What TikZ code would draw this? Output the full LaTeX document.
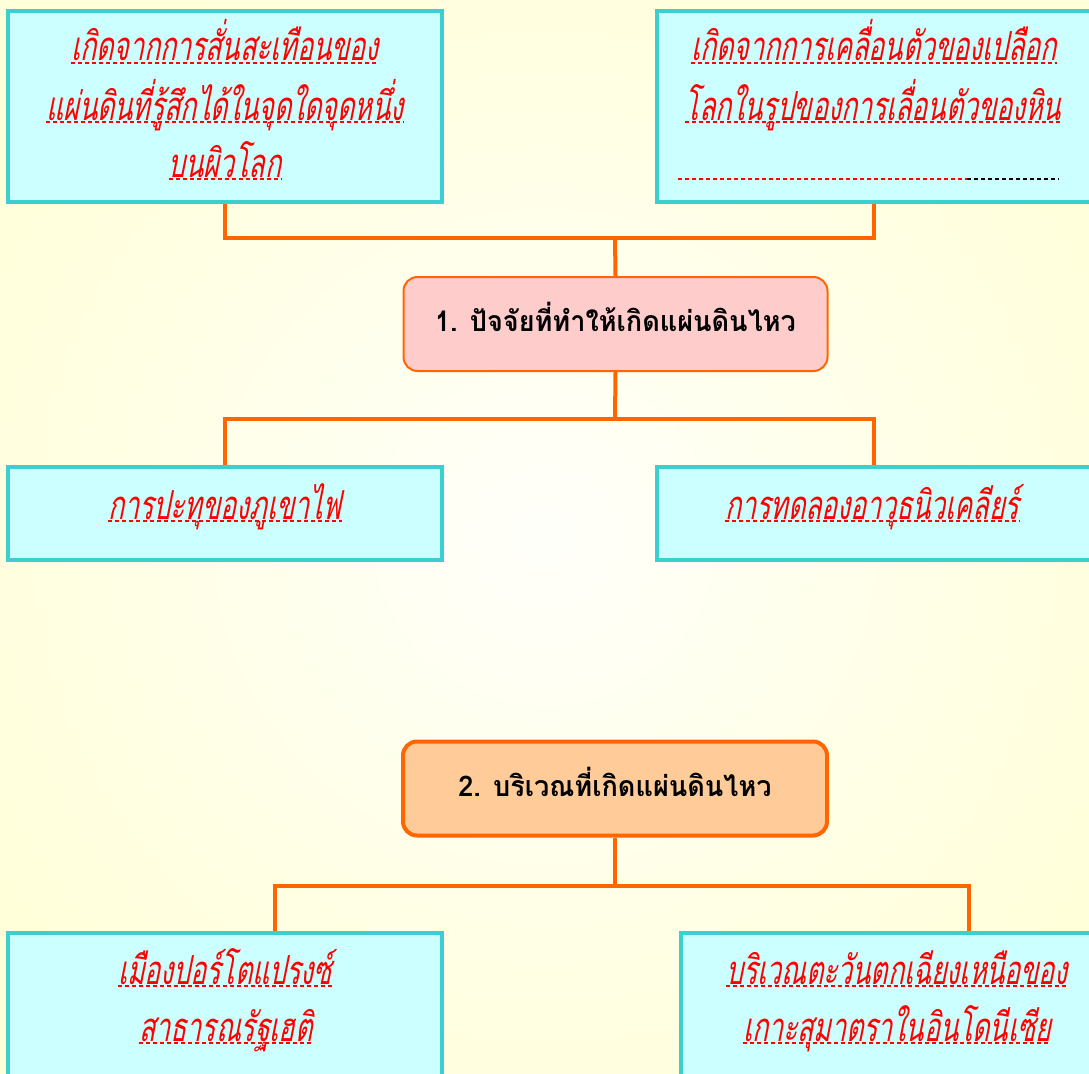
\documentclass[tikz,border=0pt]{standalone}
\usepackage{fontspec}
\newfontfamily\thaiit[Script=Thai,FakeSlant=0.2,FakeStretch=0.665]{Loma}
\newfontfamily\thaibf[Script=Thai,FakeStretch=0.95]{Loma}
\definecolor{tealb}{HTML}{3CCFCF}
\definecolor{cyanf}{HTML}{CCFFFF}
\definecolor{orng}{HTML}{FF6600}
\definecolor{pinkf}{HTML}{FFCCCC}
\definecolor{peachf}{HTML}{FFCC99}
\definecolor{bgout}{HTML}{FFFFDA}
\definecolor{bgin}{HTML}{FFFFFA}
\definecolor{ulred}{HTML}{FF0000}
\begin{document}
\begin{tikzpicture}[x=1pt,y=-1pt,
  box/.style={draw=tealb,fill=cyanf,line width=4pt,minimum width=434pt,inner sep=0pt},
  conn/.style={draw=orng,line width=4pt},
  title/.style={draw=orng,rounded corners=14pt,minimum width=424pt,minimum height=94pt,
     inner sep=0pt,text depth=0pt,font=\thaibf\bfseries\fontsize{28.5}{28.5}\selectfont},
  uline/.style={color=ulred,line width=1.2pt,dash pattern=on 4pt off 3pt},
  ln/.style={anchor=base,inner xsep=0pt,inner ysep=0pt,text=ulred,
     font=\thaiit\fontsize{40}{40}\selectfont,
     append after command={([yshift=-2pt]\tikzlastnode.base west) edge[uline]
        ([yshift=-2pt]\tikzlastnode.base east)}}]
\useasboundingbox (0,0) rectangle (1089,1073);
\clip (0,0) rectangle (1089,1073);
\shade[inner color=bgin,outer color=bgout] (-100,-100) rectangle (1189,1173);

% boxes
\node[box,minimum height=191pt] (b1) at (225,106.5) {};
\node[box,minimum height=191pt] (b2) at (874,106.5) {};
\node[title,fill=pinkf,line width=2pt,text height=14pt] (t1) at (615.5,324) {1. ปัจจัยที่ทำให้เกิดแผ่นดินไหว};
\node[box,minimum height=93pt] (b3) at (225,513.5) {};
\node[box,minimum height=93pt] (b4) at (874,513.5) {};
\node[title,fill=peachf,line width=4pt,text height=15pt] (t2) at (615,788.5) {2. บริเวณที่เกิดแผ่นดินไหว};
\node[box,minimum height=156pt] (b5) at (225,1011) {};
\node[box,minimum height=156pt] (b6) at (898,1011) {};

% connectors
\coordinate (j1) at (615,238);
\draw[conn] (b1.south) |- (j1) -| (b2.south);
\draw[conn] (j1) -- (t1.north);
\coordinate (j2) at (615,419);
\draw[conn] (t1.south) -- (j2);
\draw[conn] (b3.north) |- (j2) -| (b4.north);
\coordinate (j3) at (615,886);
\coordinate (k5) at (275,886);
\coordinate (k6) at (969,886);
\draw[conn] (t2.south) -- (j3);
\draw[conn] (b5.north -| k5) -- (k5) -- (k6) -- (b6.north -| k6);

% texts
\node[ln] (b1l1) at (225,61) {เกิดจากการสั่นสะเทือนของ};
\node[ln] (b1l2) at (225,120) {แผ่นดินที่รู้สึกได้ในจุดใดจุดหนึ่ง};
\node[ln] (b1l3) at (225,177) {บนผิวโลก};
\node[ln] (b2l1) at (874,61) {เกิดจากการเคลื่อนตัวของเปลือก};
\node[ln] (b2l2) at (873,120) {โลกในรูปของการเลื่อนตัวของหิน};
\coordinate (d1) at (678,179);
\coordinate (d2) at (967,179);
\coordinate (d3) at (1059,179);
\draw[uline] (d1) -- (d2);
\draw[uline,color=black] (d2) -- (d3);
\node[ln] (b3l1) at (225,519) {การปะทุของภูเขาไฟ};
\node[ln] (b4l1) at (872,519) {การทดลองอาวุธนิวเคลียร์};
\node[ln] (b5l1) at (225,984) {เมืองปอร์โตแปรงซ์};
\node[ln] (b5l2) at (226,1041) {สาธารณรัฐเฮติ};
\node[ln] (b6l1) at (897,984) {บริเวณตะวันตกเฉียงเหนือของ};
\node[ln] (b6l2) at (897,1041) {เกาะสุมาตราในอินโดนีเซีย};
\end{tikzpicture}
\end{document}
